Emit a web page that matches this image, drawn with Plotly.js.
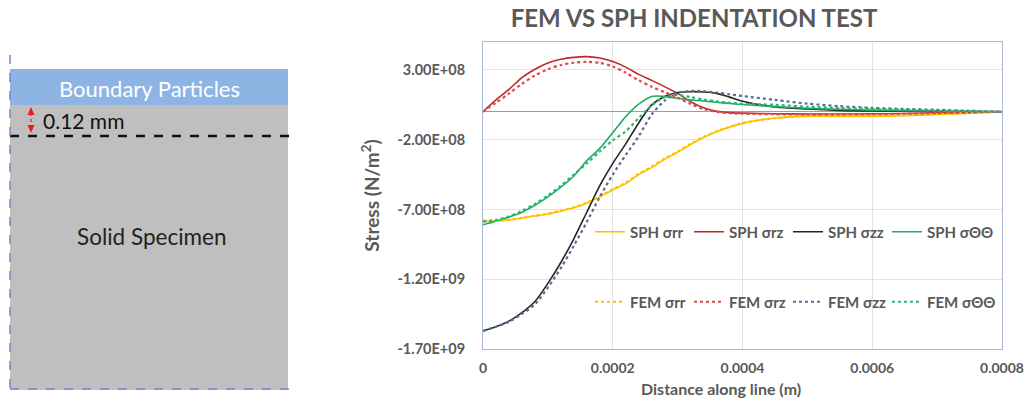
<!DOCTYPE html>
<html>
<head>
<meta charset="utf-8">
<script src="https://cdn.plot.ly/plotly-3.0.1.min.js"></script>
<style>html,body{margin:0;padding:0;background:#fff;}#chart{width:1027px;height:401px;}</style>
</head>
<body>
<div id="chart"></div>
<script>
// Distance along line (m)
const distance = [0, 2e-5, 4e-5, 6e-5, 8e-5, 1e-4, 1.2e-4, 1.4e-4, 1.6e-4, 1.8e-4, 2e-4, 2.2e-4, 2.4e-4, 2.6e-4, 2.8e-4, 3e-4, 3.2e-4, 3.4e-4, 3.6e-4, 3.8e-4, 4e-4, 4.5e-4, 5e-4, 5.5e-4, 6e-4, 6.5e-4, 7e-4, 7.5e-4, 8e-4];

// Stress values (units of 1e8 N/m^2)
const sphRR = [-7.85, -7.82, -7.76, -7.62, -7.47, -7.33, -7.12, -6.88, -6.55, -6.1, -5.6, -5.15, -4.5, -4.0, -3.4, -2.9, -2.35, -1.85, -1.43, -1.1, -0.83, -0.45, -0.33, -0.33, -0.33, -0.28, -0.2, -0.1, 0];
const sphRZ = [0, 0.85, 1.6, 2.45, 3.05, 3.5, 3.76, 3.9, 3.95, 3.85, 3.6, 3.2, 2.68, 2.25, 1.8, 1.32, 0.72, 0.28, 0.03, -0.06, -0.1, -0.14, -0.16, -0.16, -0.15, -0.12, -0.08, -0.04, 0];
const sphZZ = [-15.7, -15.4, -15.0, -14.4, -13.6, -12.3, -10.8, -9.1, -7.2, -5.3, -3.7, -2.3, -0.8, 0.5, 1.1, 1.38, 1.44, 1.42, 1.32, 1.05, 0.75, 0.35, 0.2, 0.1, 0.06, 0.04, 0.02, 0.01, 0];
const sphTT = [-8.1, -7.85, -7.55, -7.2, -6.7, -6.1, -5.4, -4.6, -3.5, -2.62, -1.5, -0.35, 0.55, 1.1, 1.1, 0.95, 0.85, 0.77, 0.68, 0.6, 0.52, 0.37, 0.25, 0.17, 0.12, 0.08, 0.05, 0.02, 0];
const femRR = [-7.8, -7.8, -7.74, -7.6, -7.44, -7.3, -7.08, -6.84, -6.5, -6.06, -5.55, -5.08, -4.45, -3.92, -3.35, -2.85, -2.3, -1.8, -1.4, -1.08, -0.8, -0.45, -0.3, -0.28, -0.26, -0.22, -0.15, -0.08, 0];
const femRZ = [0, 0.65, 1.3, 2.0, 2.6, 3.05, 3.35, 3.52, 3.58, 3.5, 3.25, 2.8, 2.25, 1.8, 1.4, 1.02, 0.55, 0.2, 0.0, -0.1, -0.14, -0.18, -0.2, -0.2, -0.18, -0.14, -0.1, -0.05, 0];
const femZZ = [-15.7, -15.4, -15.05, -14.5, -13.8, -12.6, -11.2, -9.6, -7.9, -6.1, -4.5, -3.1, -1.75, -0.2, 0.8, 1.35, 1.5, 1.47, 1.38, 1.25, 1.13, 0.85, 0.58, 0.4, 0.28, 0.2, 0.14, 0.07, 0];
const femTT = [-7.88, -7.75, -7.5, -7.1, -6.6, -6.0, -5.3, -4.5, -3.7, -2.85, -2.05, -1.4, -0.45, 0.45, 1.05, 1.2, 1.05, 0.88, 0.75, 0.64, 0.57, 0.5, 0.36, 0.27, 0.2, 0.14, 0.09, 0.05, 0];
const unit = 1e8;

const seriesNames = ["SPH σrr", "SPH σrz", "SPH σzz", "SPH σΘΘ", "FEM σrr", "FEM σrz", "FEM σzz", "FEM σΘΘ"];
const seriesColors = ["#FFC000", "#C0282D", "#262626", "#1FAE5B", "#FFC000", "#E0474C", "#5A6E94", "#2DB37A"];

// Tick labels
const yTickVals = [3e8, -2e8, -7e8, -1.2e9, -1.7e9];
const yTickText = ["3.00E+08", "-2.00E+08", "-7.00E+08", "-1.20E+09", "-1.70E+09"];
const xTickVals = [0, 0.0002, 0.0004, 0.0006, 0.0008];
const xTickText = ["0", "0.0002", "0.0004", "0.0006", "0.0008"];

const W = 1027, H = 401;
const px = v => v / W;
const py = v => 1 - v / H;

const allSeries = [sphRR, sphRZ, sphZZ, sphTT, femRR, femRZ, femZZ, femTT];
const traces = allSeries.map((s, i) => ({
  x: distance,
  y: s.map(v => v * unit),
  type: "scatter",
  mode: "lines",
  name: seriesNames[i],
  legend: i < 4 ? "legend" : "legend2",
  legendwidth: (i % 4 === 3) ? 90 : 54,
  line: {color: seriesColors[i], width: i < 4 ? 1.6 : 2.2, dash: i < 4 ? "solid" : "dot", shape: "spline", smoothing: 0.8},
  hoverinfo: "x+y+name"
}));

const FONT = "Lato, 'Open Sans', 'DejaVu Sans', sans-serif";
const gray = "#595959";

const legendCommon = {
  orientation: "h",
  xanchor: "left",
  yanchor: "middle",
  x: px(590),
  bgcolor: "rgba(0,0,0,0)",
  font: {family: FONT, size: 15, color: gray, weight: 700},
  entrywidth: 54,
  entrywidthmode: "pixels",
  itemwidth: 30,
  tracegroupgap: 0
};

const layout = {
  width: W, height: H,
  margin: {l: 0, r: 0, t: 0, b: 0},
  paper_bgcolor: "#ffffff",
  plot_bgcolor: "#ffffff",
  font: {family: FONT, color: gray},
  title: {
    text: "FEM VS SPH INDENTATION TEST",
    font: {family: FONT, size: 24, color: gray, weight: 700},
    x: px(694), xanchor: "center", y: py(19), yanchor: "middle"
  },
  xaxis: {
    domain: [px(483), px(1002)],
    range: [0, 0.0008],
    tickvals: xTickVals, ticktext: xTickText,
    tickfont: {family: FONT, size: 14, color: gray, weight: 700},
    showgrid: true, gridcolor: "#E3E3E3", gridwidth: 1,
    zeroline: false,
    showline: true, linecolor: "#A9B7D6", linewidth: 1, mirror: true,
    ticks: "", ticklabelstandoff: 6
  },
  yaxis: {
    domain: [py(349), py(42)],
    range: [-1.7e9, 5e8],
    tickvals: yTickVals, ticktext: yTickText,
    tickfont: {family: FONT, size: 14.5, color: gray, weight: 700},
    showgrid: true, gridcolor: "#E3E3E3", gridwidth: 1,
    zeroline: true, zerolinecolor: "#8C9DCB", zerolinewidth: 1,
    showline: true, linecolor: "#A9B7D6", linewidth: 1, mirror: true,
    ticks: "", ticklabelstandoff: 14,
    title: {text: "Stress (N/m<sup>2</sup>)", font: {family: FONT, size: 19, color: gray, weight: 700}, standoff: 12}
  },
  legend: Object.assign({}, legendCommon, {y: py(232)}),
  legend2: Object.assign({}, legendCommon, {y: py(302)}),
  shapes: [
    {type: "rect", xref: "paper", yref: "paper", x0: px(10), x1: px(288), y0: py(390), y1: py(105), fillcolor: "#BFBFBF", line: {width: 0}, layer: "below"},
    {type: "rect", xref: "paper", yref: "paper", x0: px(10), x1: px(288), y0: py(105), y1: py(69), fillcolor: "#8DB4E3", line: {width: 0}, layer: "below"},
    {type: "line", xref: "paper", yref: "paper", x0: px(10), x1: px(291), y0: py(136), y1: py(136), line: {color: "#111111", width: 2.5, dash: "dash"}},
    {type: "line", xref: "paper", yref: "paper", x0: px(10), x1: px(10), y0: py(55), y1: py(389), line: {color: "#6C8CC8", width: 1.5, dash: "dash"}},
    {type: "line", xref: "paper", yref: "paper", x0: px(10), x1: px(298), y0: py(389), y1: py(389), line: {color: "#6C8CC8", width: 1.5, dash: "dash"}},
    {type: "line", xref: "paper", yref: "paper", x0: px(31), x1: px(31), y0: py(113), y1: py(127), line: {color: "#E81E1E", width: 1.2, dash: "dot"}},
    {type: "path", xref: "paper", yref: "paper", path: `M ${px(27.5)} ${py(115)} L ${px(34.5)} ${py(115)} L ${px(31)} ${py(107)} Z`, fillcolor: "#E81E1E", line: {width: 0}},
    {type: "path", xref: "paper", yref: "paper", path: `M ${px(27.5)} ${py(125)} L ${px(34.5)} ${py(125)} L ${px(31)} ${py(133)} Z`, fillcolor: "#E81E1E", line: {width: 0}}
  ],
  annotations: [
    {xref: "paper", yref: "paper", x: px(721), y: py(388), text: "Distance along line (m)", showarrow: false, xanchor: "center", yanchor: "middle", font: {family: FONT, size: 16, color: gray, weight: 700}},
    {xref: "paper", yref: "paper", x: px(149), y: py(88), text: "Boundary Particles", showarrow: false, xanchor: "center", yanchor: "middle", font: {family: FONT, size: 22, color: "#ffffff"}},
    {xref: "paper", yref: "paper", x: px(41), y: py(121), text: "0.12 mm", showarrow: false, xanchor: "left", yanchor: "middle", font: {family: FONT, size: 21, color: "#111111"}},
    {xref: "paper", yref: "paper", x: px(152), y: py(236), text: "Solid Specimen", showarrow: false, xanchor: "center", yanchor: "middle", font: {family: FONT, size: 22.5, color: "#222222"}}
  ]
};

Plotly.newPlot("chart", traces, layout, {displayModeBar: false, responsive: false});
</script>
</body>
</html>
